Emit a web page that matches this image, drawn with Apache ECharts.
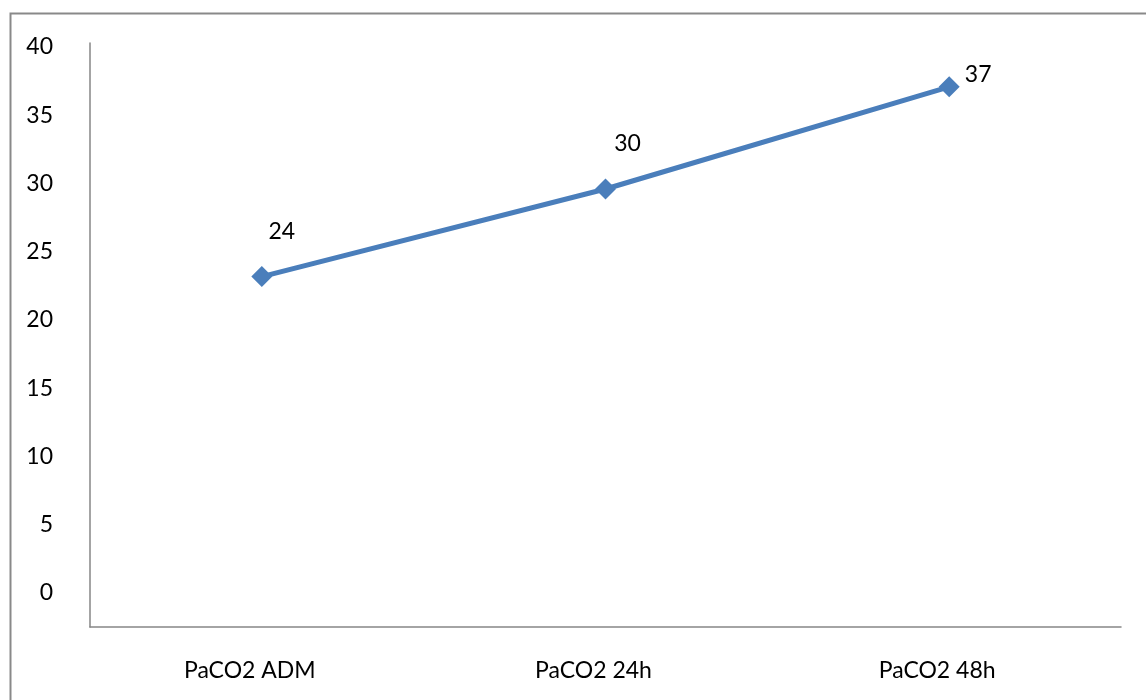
<!DOCTYPE html>
<html>
<head>
<meta charset="utf-8">
<script src="https://cdn.jsdelivr.net/npm/echarts@6/dist/echarts.min.js"></script>
<style>
html,body{margin:0;padding:0;background:#fff;}
#c{width:1146px;height:700px;}
</style>
</head>
<body>
<div id="c"></div>
<script>
const categories = ['PaCO2 ADM', 'PaCO2 24h', 'PaCO2 48h'];
const values = [24, 30, 37];
const yTicks = [0, 5, 10, 15, 20, 25, 30, 35, 40];

const FONT = 'Lato';
const FS = 23;
const chart = echarts.init(document.getElementById('c'));
const labelOffsets = [[20, -3], [22, -3], [29, 30]];

chart.setOption({
  animation: false,
  backgroundColor: '#fff',
  textStyle: { fontFamily: FONT },
  graphic: [{
    type: 'rect', left: 8, top: 11,
    shape: { width: 1200, height: 800 },
    style: { fill: 'none', stroke: '#898989', lineWidth: 2 },
    silent: true
  }],
  grid: [
    { left: 90, right: 25, top: 43, bottom: 73 },
    { left: 90, right: 25, top: 47, bottom: 107 }
  ],
  xAxis: [
    {
      type: 'category', gridIndex: 0, data: categories, boundaryGap: true,
      axisLine: { lineStyle: { color: '#868686', width: 1.5 } },
      axisTick: { show: false },
      axisLabel: { color: '#000', fontSize: FS, fontFamily: FONT, margin: 32, padding: [0, 24, 0, 0] }
    },
    {
      type: 'category', gridIndex: 1, data: categories, show: false
    }
  ],
  yAxis: [
    {
      type: 'value', gridIndex: 0, min: 0, max: 40, interval: 5,
      axisLine: { show: true, lineStyle: { color: '#868686', width: 1.5 } },
      axisTick: { show: false },
      axisLabel: { show: false },
      splitLine: { show: false }
    },
    {
      type: 'value', gridIndex: 1, min: yTicks[0], max: yTicks[yTicks.length - 1], interval: yTicks[1] - yTicks[0],
      axisLine: { show: false },
      axisTick: { show: false },
      axisLabel: { color: '#000', fontSize: FS, fontFamily: FONT, margin: 37 },
      splitLine: { show: false }
    }
  ],
  series: [{
    type: 'line',
    xAxisIndex: 0, yAxisIndex: 0,
    data: values.map((v, i) => ({
      value: v,
      label: { offset: labelOffsets[i] }
    })),
    symbol: 'diamond',
    symbolSize: 21,
    lineStyle: { color: '#4A7EBB', width: 5 },
    itemStyle: { color: '#4A7EBB' },
    label: {
      show: true, position: 'top', color: '#000', fontSize: FS, fontFamily: FONT, distance: 20
    }
  }]
});
</script>
</body>
</html>
